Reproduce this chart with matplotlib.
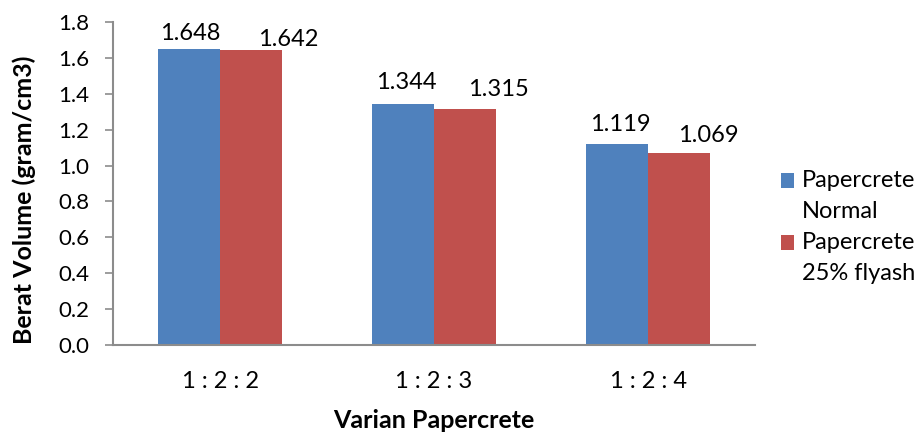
import matplotlib
matplotlib.use("Agg")
import matplotlib.pyplot as plt
from matplotlib.patches import Rectangle
import numpy as np

plt.rcParams["font.family"] = ["Lato", "DejaVu Sans"]

# Data
categories = ["1 : 2 : 2", "1 : 2 : 3", "1 : 2 : 4"]
series_names = ["Papercrete\nNormal", "Papercrete\n25% flyash"]
normal = [1.648, 1.344, 1.119]
flyash = [1.642, 1.315, 1.069]
y_ticks = [0.0, 0.2, 0.4, 0.6, 0.8, 1.0, 1.2, 1.4, 1.6, 1.8]

colors = ["#4F81BD", "#C0504D"]
W, H = 923, 432
fig = plt.figure(figsize=(W / 100, H / 100), dpi=100)

# axes box in pixel terms
left, right, top, bottom = 113, 755, 22, 345
ax = fig.add_axes([left / W, 1 - bottom / H, (right - left) / W, (bottom - top) / H])

x = np.arange(len(categories))
bw = 0.29
b1 = ax.bar(x - bw / 2, normal, bw, color=colors[0], edgecolor="none")
b2 = ax.bar(x + bw / 2, flyash, bw, color=colors[1], edgecolor="none")

ax.set_xlim(-0.5, len(categories) - 0.5)
ax.set_ylim(0, 1.8)
ax.set_yticks(y_ticks)
ax.set_yticklabels([f"{v:.1f}" for v in y_ticks])
ax.set_xticks(x)
ax.set_xticklabels(categories)

for s in ["top", "right"]:
    ax.spines[s].set_visible(False)
for s in ["left", "bottom"]:
    ax.spines[s].set_color("#8c8c8c")
    ax.spines[s].set_linewidth(1.5)

ax.tick_params(axis="y", direction="out", length=6, width=1.2, color="#8c8c8c",
               pad=11, labelsize=16, labelcolor="black")
ax.tick_params(axis="x", length=0, pad=19, labelsize=17, labelcolor="black")

ax.set_ylabel("Berat Volume (gram/cm3)", fontsize=18, fontweight="bold")
ax.yaxis.set_label_coords(-(113 - 36) / 642, 0.45)
ax.set_xlabel("Varian Papercrete", fontsize=18, fontweight="bold")
ax.xaxis.set_label_coords(0.5, -(409 - 345) / 323)

# value labels above bars (offsets in pixels)
offs_normal = [(1, 9), (3, 15), (3, 13)]
offs_flyash = [(37, 4), (33, 13), (29, 11)]
for bars, vals, offs in [(b1, normal, offs_normal), (b2, flyash, offs_flyash)]:
    for rect, v, (dx, dy) in zip(bars, vals, offs):
        ax.annotate(f"{v:.3f}", (rect.get_x() + rect.get_width() / 2, v),
                    xytext=(dx, dy), textcoords="offset pixels",
                    ha="center", va="baseline", fontsize=17)

# legend
entries = [173, 235]
for ytop, name, c in zip(entries, series_names, colors):
    fig.patches.append(Rectangle((781 / W, 1 - (ytop + 15) / H), 13 / W, 15 / H,
                                 transform=fig.transFigure, facecolor=c,
                                 edgecolor="none"))
    fig.text(802 / W, 1 - (ytop - 3) / H, name, fontsize=17, va="top",
             ha="left", linespacing=1.6)

fig.savefig("out.png", dpi=100)
